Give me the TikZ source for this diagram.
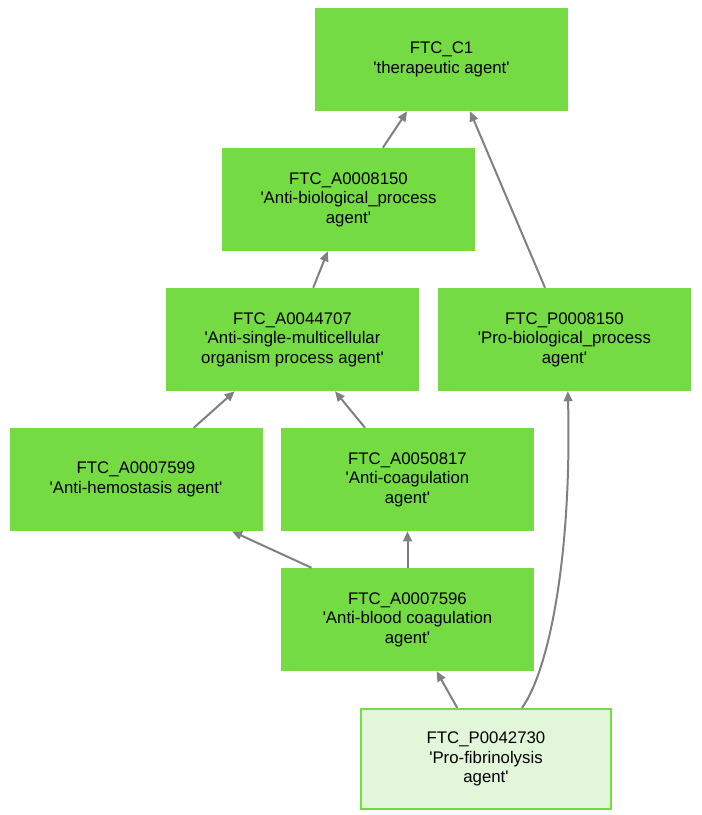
\documentclass[tikz,border=0pt]{standalone}
\usepackage{fontspec}
\setmainfont{Liberation Sans}[Ligatures=TeXOff]
\usetikzlibrary{arrows.meta}
\definecolor{termgreen}{HTML}{74DB42}
\definecolor{termlight}{HTML}{E2F6DA}
\definecolor{edgegray}{HTML}{808080}

\begin{document}
\begin{tikzpicture}[x=0.75pt,y=-0.75pt,
		term/.style={rectangle,fill=termgreen,minimum width=189.75pt,minimum height=77.25pt,inner sep=0pt,align=center,font=\fontsize{12.6}{14.6}\selectfont},
		query/.style={term,fill=termlight,draw=termgreen,line width=1.8pt,minimum width=187.5pt,minimum height=75pt},
		isa/.style={draw=edgegray,line width=1.5pt,-{Triangle[length=7.5pt,width=6.5pt]}}]
		\useasboundingbox (0,0) rectangle (702,815);
		\node[term] (c1) at (441.5,59.5) {FTC\_C1\\'therapeutic agent'};
		\node[term] (a8150) at (348.5,199.5) {FTC\_A0008150\\'Anti-biological\_process\\agent'};
		\node[term] (a44707) at (292.5,339.5) {FTC\_A0044707\\'Anti-single-multicellular\\organism process agent'};
		\node[term] (p8150) at (564.5,339.5) {FTC\_P0008150\\'Pro-biological\_process\\agent'};
		\node[term] (a7599) at (136,479.5) {FTC\_A0007599\\'Anti-hemostasis agent'};
		\node[term] (a50817) at (407.5,479.5) {FTC\_A0050817\\'Anti-coagulation\\agent'};
		\node[term] (a7596) at (407.5,619.5) {FTC\_A0007596\\'Anti-blood coagulation\\agent'};
		\node[query] (p42730) at (486,759) {FTC\_P0042730\\'Pro-fibrinolysis\\agent'};
		% is_a edges
		\foreach \from/\to in {a8150/c1,a44707/a8150,a7599/a44707,a50817/a44707,a7596/a50817,p42730/a7596}{
			\draw[isa] (\from) -- (\to);
		};
		\draw[isa] ([xshift=-14.6pt]p8150.north) -- ([xshift=21.4pt]c1.south);
		\draw[isa] ([xshift=-72pt]a7596.north) -- ([xshift=72pt]a7599.south);
		\draw[isa] ([xshift=27pt]p42730.north) .. controls (548,672) and (572,560) .. ([xshift=2.5pt]p8150.south);
	\end{tikzpicture}
\end{document}
